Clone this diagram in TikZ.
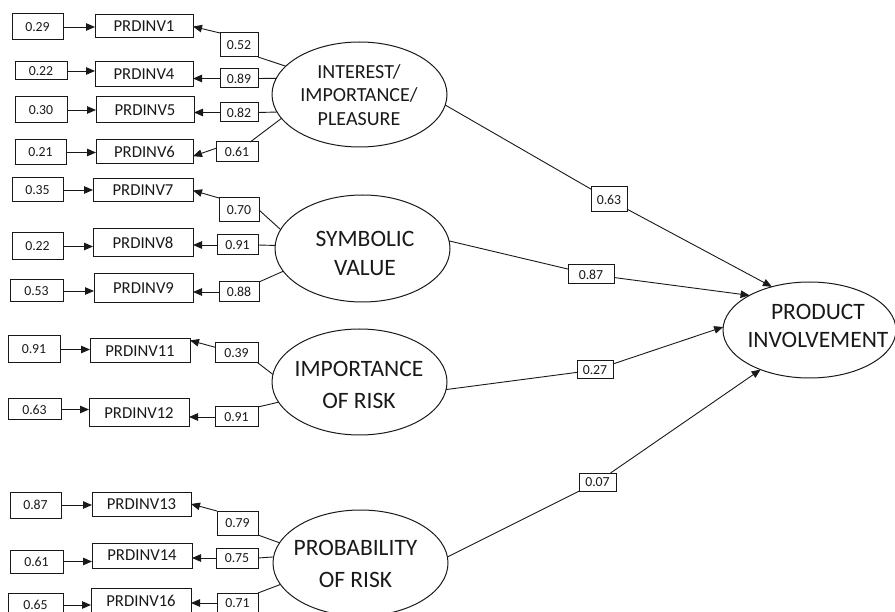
\documentclass[tikz,border=0pt]{standalone}
\usepackage{fontspec}
\setmainfont{Carlito}
\usetikzlibrary{arrows.meta,shapes.geometric}
\begin{document}
\begin{tikzpicture}[x=1pt,y=-1pt,
  line width=0.9pt, draw=black!90,
  numbox/.style 2 args={draw=black!90, line width=1pt, minimum width=#1pt, minimum height=#2pt,
    inner sep=0pt, outer sep=0pt, text=black!90, font=\fontsize{13.8}{16}\selectfont},
  indbox/.style 2 args={numbox={#1}{#2}, font=\fontsize{16.7}{19}\selectfont},
  latent/.style 2 args={draw=black!90, line width=1pt, ellipse, inner sep=0pt, outer sep=0pt,
    minimum width=#1pt, minimum height=#2pt},
  lattext/.style={align=center, text=black!90, inner sep=0pt},
  arr/.style={-{Triangle[length=9pt,width=7.5pt]}}
]
\useasboundingbox (0,0) rectangle (895,612);
\clip (0,0) rectangle (895,612);

% latent variables
\node[latent={175}{105}] (F1) at (359.5,94.5) {};
\node[lattext, font=\fontsize{20}{23.5}\selectfont] (F1t) at (359,95) {INTEREST/\\IMPORTANCE/\\PLEASURE};
\node[latent={175}{107}] (F2) at (362.5,248.5) {};
\node[lattext, font=\fontsize{23.5}{29}\selectfont] (F2t) at (365,253.5) {SYMBOLIC\\VALUE};
\node[latent={175}{106}] (F3) at (359.5,382) {};
\node[lattext, font=\fontsize{23.5}{32}\selectfont] (F3t) at (359,384.5) {IMPORTANCE\\OF RISK};
\node[latent={175}{106}] (F4) at (360.5,563) {};
\node[lattext, font=\fontsize{23.5}{32}\selectfont] (F4t) at (355.5,563.5) {PROBABILITY\\OF RISK};
\node[latent={173}{96}] (F5) at (809.5,330) {};
\node[lattext, font=\fontsize{23.5}{28}\selectfont] (F5t) at (818,325.5) {PRODUCT\\INVOLVEMENT};

% error boxes
\node[numbox={51}{26}] (e1) at (37.5,27) {0.29};
\node[numbox={52}{18}] (e4) at (41,71) {0.22};
\node[numbox={52}{26}] (e5) at (41,110) {0.30};
\node[numbox={51}{25}] (e6) at (40.5,152.5) {0.21};
\node[numbox={51}{24}] (e7) at (37.5,190) {0.35};
\node[numbox={51}{27}] (e8) at (37.5,246.5) {0.22};
\node[numbox={53}{22}] (e9) at (36.5,291) {0.53};
\node[numbox={52}{27}] (e11) at (34,349.5) {0.91};
\node[numbox={53}{21}] (e12) at (34.5,409.5) {0.63};
\node[numbox={51}{26}] (e13) at (35.5,505) {0.87};
\node[numbox={53}{23}] (e14) at (36.5,561.5) {0.61};
\node[numbox={55}{24}] (e16) at (35.5,605) {0.65};

% indicators
\node[indbox={98}{23}] (i1) at (144,26.5) {PRDINV1};
\node[indbox={98}{25}] (i4) at (144,74.5) {PRDINV4};
\node[indbox={98}{26}] (i5) at (145,110) {PRDINV5};
\node[indbox={97}{24}] (i6) at (144.5,152) {PRDINV6};
\node[indbox={100}{23}] (i7) at (143,190.5) {PRDINV7};
\node[indbox={100}{28}] (i8) at (143,243) {PRDINV8};
\node[indbox={99}{29}] (i9) at (143.5,288.5) {PRDINV9};
\node[indbox={100}{24}] (i11) at (140,351) {PRDINV11};
\node[indbox={100}{28}] (i12) at (139,413) {PRDINV12};
\node[indbox={99}{24}] (i13) at (141.5,504) {PRDINV13};
\node[indbox={100}{25}] (i14) at (142,555.5) {PRDINV14};
\node[indbox={100}{26}] (i16) at (141,601) {PRDINV16};

% loading boxes
\node[numbox={38}{24}] (l1) at (239,45) {0.52};
\node[numbox={38}{19}] (l4) at (239,78.5) {0.89};
\node[numbox={38}{19}] (l5) at (239,112.5) {0.82};
\node[numbox={42}{20}] (l6) at (237,152) {0.61};
\node[numbox={40}{24}] (l7) at (239,210) {0.70};
\node[numbox={41}{20}] (l8) at (237.5,245) {0.91};
\node[numbox={40}{20}] (l9) at (239,292) {0.88};
\node[numbox={43}{20}] (l11) at (236.5,353) {0.39};
\node[numbox={43}{20}] (l12) at (236.5,417) {0.91};
\node[numbox={41}{24}] (l13) at (237.5,523) {0.79};
\node[numbox={42}{20}] (l14) at (237,558) {0.75};
\node[numbox={41}{20}] (l16) at (237.5,603) {0.71};

% structural path boxes
\node[numbox={36}{25}] (p1) at (609,199.5) {0.63};
\node[numbox={46}{19}] (p2) at (591,274.5) {0.87};
\node[numbox={36}{18}] (p3) at (595,370) {0.27};
\node[numbox={37}{18}] (p4) at (597.5,482) {0.07};

% error arrows
\foreach \k in {1,4,5,6,7,8,9,11,12,13,14,16}
  \draw[arr] (e\k.east) -- (e\k.east -| i\k.west);

% loadings
\draw (l1.south east) -- (F1.159);  \draw[arr] (l1.north west) -- (i1.east);
\draw (l4.east) -- (F1.169);        \draw[arr] (l4.west) -- (l4.west -| i4.east);
\draw (l5.east) -- (F1.192);        \draw[arr] (l5.west) -- (l5.west -| i5.east);
\draw (l6) -- (F1.197);             \draw[arr] (l6.170) -- (i6.-5);
\draw (l7.east) -- (F2.167);        \draw[arr] (l7.north west) -- (i7.east);
\draw (l8.east) -- (F2.178);        \draw[arr] (l8.west) -- (l8.west -| i8.east);
\draw (l9.north east) -- (F2.196);  \draw[arr] (l9.west) -- (l9.west -| i9.east);
\draw (l11.south east) -- (F3.175); \draw[arr] (l11.165) -- (i11.12);
\draw (l12.north east) -- (F3.194); \draw[arr] (l12.west) -- (l12.west -| i12.east);
\draw (l13.south east) -- (F4.166); \draw[arr] (l13.north west) -- (i13.east);
\draw (l14.east) -- (F4.176);       \draw[arr] (l14.west) -- (l14.west -| i14.east);
\draw (l16.north east) -- (F4.195); \draw[arr] (l16.west) -- (l16.west -| i16.east);

% structural paths
\draw (F1.-7) -- (p1);  \draw[arr] (p1) -- (F5.131);
\draw (F2.5) -- (p2);   \draw[arr] (p2) -- (F5.150);
\draw (F3.-5) -- (p3);  \draw[arr] (p3) -- (F5.178);
\draw (F4.4) -- (p4);   \draw[arr] (p4) -- (F5.-141);
\end{tikzpicture}
\end{document}
